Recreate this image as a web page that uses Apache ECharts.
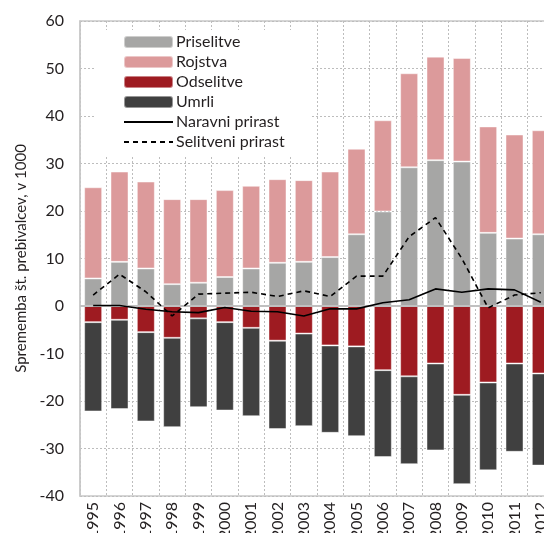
<!DOCTYPE html>
<html>
<head>
<meta charset="utf-8">
<script src="https://cdn.jsdelivr.net/npm/echarts@6/dist/echarts.min.js"></script>
<style>html,body{margin:0;padding:0;background:#fff}#c{width:544px;height:533px}</style>
</head>
<body>
<div id="c"></div>
<script>
const years = ['1995','1996','1997','1998','1999','2000','2001','2002','2003','2004','2005','2006','2007','2008','2009','2010','2011','2012'];
const priselitve = [5.8, 9.3, 7.9, 4.6, 4.9, 6.1, 7.9, 9.1, 9.3, 10.3, 15.1, 19.9, 29.2, 30.7, 30.4, 15.4, 14.2, 15.1];
const rojstva    = [19.2, 19.0, 18.3, 17.9, 17.6, 18.3, 17.4, 17.6, 17.2, 18.0, 18.0, 19.2, 19.8, 21.8, 21.8, 22.4, 21.9, 21.9];
const odselitve  = [-3.4, -2.9, -5.5, -6.7, -2.6, -3.4, -4.6, -7.3, -5.8, -8.3, -8.5, -13.5, -14.8, -12.1, -18.7, -16.1, -12.1, -14.2];
const umrli      = [-18.8, -18.8, -18.8, -18.8, -18.7, -18.6, -18.6, -18.6, -19.5, -18.4, -18.9, -18.3, -18.5, -18.3, -18.8, -18.5, -18.6, -19.4];
const naravni    = [0.1, 0.1, -0.7, -1.2, -1.4, -0.3, -1.1, -1.2, -2.1, -0.6, -0.6, 0.7, 1.3, 3.6, 2.9, 3.6, 3.4, 0.8];
const selitveni  = [2.3, 6.7, 3.0, -2.1, 2.5, 2.7, 2.9, 2.0, 3.2, 2.0, 6.3, 6.3, 14.6, 18.6, 10.0, -0.4, 2.3, 2.8];
const yTicks = [-40, -30, -20, -10, 0, 10, 20, 30, 40, 50, 60];

const FONT = 'Lato';
const chart = echarts.init(document.getElementById('c'), null, {renderer: 'canvas'});
const barBase = {type: 'bar', stack: 'all', barWidth: 18, itemStyle: {borderColor: 'rgba(255,255,255,0.45)', borderWidth: 1}};
chart.setOption({
  animation: false,
  textStyle: {fontFamily: FONT, color: '#231f20'},
  grid: {left: 80, top: 21, width: 474, bottom: 37, outerBoundsMode: 'none', containLabel: false,
    show: true, borderColor: '#c8c8c8', borderWidth: 1.5, backgroundColor: 'transparent'},
  legend: {
    orient: 'vertical', left: 96, top: 30,
    padding: [4, 26, 5, 27],
    backgroundColor: '#fff',
    itemWidth: 49, itemHeight: 12, itemGap: 4,
    textStyle: {fontFamily: FONT, fontSize: 16, lineHeight: 16, color: '#231f20', padding: [0, 0, 0, -2]},
    data: ['Priselitve', 'Rojstva', 'Odselitve', 'Umrli',
      {name: 'Naravni prirast', itemStyle: {opacity: 0}},
      {name: 'Selitveni prirast', itemStyle: {opacity: 0}}]
  },
  xAxis: {
    type: 'category', data: years, boundaryGap: true,
    axisLine: {show: true, lineStyle: {color: '#c8c8c8', width: 1.5}},
    axisTick: {show: false},
    axisLabel: {rotate: 90, fontSize: 16, margin: 6, color: '#231f20', fontFamily: FONT},
    splitLine: {show: true, lineStyle: {color: '#bdbdbd', type: [2, 2], width: 1}}
  },
  yAxis: {
    type: 'value', min: -40, max: 60, interval: 10,
    name: 'Sprememba št. prebivalcev, v 1000', nameLocation: 'middle', nameGap: 48,
    nameTextStyle: {fontSize: 15, color: '#231f20', fontFamily: FONT},
    axisLine: {show: true, lineStyle: {color: '#c8c8c8', width: 1.5}},
    axisTick: {show: false},
    axisLabel: {fontSize: 16, margin: 16, color: '#231f20', fontFamily: FONT, formatter: v => yTicks.includes(v) ? String(v) : ''},
    splitLine: {show: true, lineStyle: {color: '#bdbdbd', type: [2, 2], width: 1}}
  },
  series: [
    Object.assign({}, barBase, {name: 'Priselitve', data: priselitve, itemStyle: Object.assign({}, barBase.itemStyle, {color: '#a6a6a5'}),
      markLine: {silent: true, symbol: 'none', label: {show: false}, lineStyle: {color: '#c0c0c0', type: 'solid', width: 2}, data: [{yAxis: 0}], z: 5}}),
    Object.assign({}, barBase, {name: 'Rojstva', data: rojstva, itemStyle: Object.assign({}, barBase.itemStyle, {color: '#dc9a9b'})}),
    Object.assign({}, barBase, {name: 'Odselitve', data: odselitve, itemStyle: Object.assign({}, barBase.itemStyle, {color: '#9e1b21'})}),
    Object.assign({}, barBase, {name: 'Umrli', data: umrli, itemStyle: Object.assign({}, barBase.itemStyle, {color: '#404040'})}),
    {type: 'line', name: 'Naravni prirast', data: naravni, symbol: 'none', z: 10,
      lineStyle: {color: '#000', width: 1.6}, itemStyle: {color: '#000'}},
    {type: 'line', name: 'Selitveni prirast', data: selitveni, symbol: 'none', z: 10,
      lineStyle: {color: '#000', width: 1.6, type: [5, 4]}, itemStyle: {color: '#000'}}
  ]
});
</script>
</body>
</html>
